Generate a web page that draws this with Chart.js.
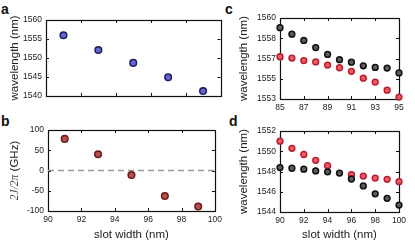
<!DOCTYPE html>
<html>
<head>
<meta charset="utf-8">
<script src="https://cdn.jsdelivr.net/npm/chart.js@4/dist/chart.umd.min.js"></script>
<style>
  body { margin: 0; width: 415px; height: 242px; background: #fff; position: relative; overflow: hidden; }
  canvas { position: absolute; }
  .tag { position: absolute; font: bold 14px "Liberation Sans", Arial, sans-serif; line-height: 14px; color: #111; }
</style>
</head>
<body>
<div class="tag" style="left:1px;top:2px">a</div>
<div class="tag" style="left:1px;top:114px">b</div>
<div class="tag" style="left:225px;top:2px">c</div>
<div class="tag" style="left:229px;top:114px">d</div>
<canvas id="panel-a" width="226" height="105" style="left:0;top:0"></canvas>
<canvas id="panel-b" width="226" height="137" style="left:0;top:105px"></canvas>
<canvas id="panel-c" width="189" height="121" style="left:226px;top:0"></canvas>
<canvas id="panel-d" width="189" height="121" style="left:226px;top:121px"></canvas>
<script>
// panel a / b: single resonance vs slot width
const slotAB = [91, 93, 95, 97, 99];
const wavelengthA = [1556.0, 1552.1, 1548.7, 1544.9, 1541.3];
const couplingB = [78, 40, -11, -63, -89];
const zeroLineX = [90, 100];
const zeroLineY = [0, 0];

// panel c
const slotC = [85, 86, 87, 88, 89, 90, 91, 92, 93, 94, 95];
const blackC = [1559.16, 1558.6, 1558.06, 1557.44, 1556.85, 1556.4, 1556.18, 1555.87, 1555.73, 1555.67, 1555.25];
const redC = [1556.65, 1556.54, 1556.32, 1556.2, 1555.93, 1555.7, 1555.39, 1554.8, 1554.46, 1553.76, 1553.17];
const tickValuesC = [1553, 1554.75, 1556.5, 1558.25, 1560];

// panel d
const slotD = [90, 91, 92, 93, 94, 95, 96, 97, 98, 99, 100];
const blackD = [1548.39, 1548.32, 1548.23, 1548.06, 1547.97, 1547.84, 1547.26, 1546.58, 1545.8, 1545.35, 1544.68];
const redD = [1551.0, 1550.29, 1549.68, 1549.1, 1548.58, null, 1547.68, 1547.55, 1547.35, 1547.23, 1547.0];

const xLabel = "slot width (nm)";
const yLabel = "wavelength (nm)";
const couplingLabel = ["2J/2π", " (GHz)"];

const textColor = "#222";
const tickFont = { family: "Liberation Sans", size: 8.5 };
const titleFont = { family: "Liberation Sans", size: 11.5 };

function points(xs, ys) {
    return xs.map((x, i) => ({ x: x, y: ys[i] }));
}

// box round the plot plus inward ticks on all four sides
const frame = {
    id: "frame",
    beforeDatasetsDraw(chart) {
        const { ctx, chartArea } = chart;
        const { left, right, top, bottom } = chartArea;
        const x = chart.scales.x;
        const y = chart.scales.y;
        ctx.save();
        ctx.strokeStyle = "#111";
        ctx.lineWidth = 1;
        ctx.beginPath();
        x.ticks.forEach(t => {
            const px = Math.round(x.getPixelForValue(t.value)) + 0.5;
            ctx.moveTo(px, bottom); ctx.lineTo(px, bottom - 3);
            ctx.moveTo(px, top); ctx.lineTo(px, top + 3);
        });
        y.ticks.forEach(t => {
            const py = Math.round(y.getPixelForValue(t.value)) + 0.5;
            ctx.moveTo(left, py); ctx.lineTo(left + 3, py);
            ctx.moveTo(right, py); ctx.lineTo(right - 3, py);
        });
        ctx.stroke();
        ctx.lineWidth = 1.2;
        ctx.strokeRect(Math.round(left) + 0.5, Math.round(top) + 0.5,
            Math.round(right - left), Math.round(bottom - top));
        ctx.restore();
    }
};

// y title of panel b, math part in italic serif
const couplingTitle = {
    id: "couplingTitle",
    afterDraw(chart) {
        const { ctx, chartArea } = chart;
        const mathFont = "italic 11.5px 'Liberation Serif'";
        const plainFont = "11.5px 'Liberation Sans'";
        ctx.save();
        ctx.font = mathFont;
        const w1 = ctx.measureText(couplingLabel[0]).width;
        ctx.font = plainFont;
        const w2 = ctx.measureText(couplingLabel[1]).width;
        ctx.translate(15, (chartArea.top + chartArea.bottom) / 2);
        ctx.rotate(-Math.PI / 2);
        ctx.fillStyle = "#444";
        ctx.textBaseline = "middle";
        ctx.textAlign = "left";
        ctx.font = mathFont;
        ctx.fillText(couplingLabel[0], -(w1 + w2) / 2, 0);
        ctx.fillStyle = textColor;
        ctx.font = plainFont;
        ctx.fillText(couplingLabel[1], -(w1 + w2) / 2 + w1, 0);
        ctx.restore();
    }
};

function xAxis(min, max, step, showLabels, title, height) {
    return {
        type: "linear",
        position: "bottom",
        min: min,
        max: max,
        grid: { display: false, drawTicks: false },
        border: { display: false },
        ticks: { stepSize: step, display: showLabels, padding: 4, color: textColor, font: tickFont, maxRotation: 0, autoSkip: false,
                 callback: v => String(v) },
        title: {
            display: !!title,
            text: title || "",
            color: textColor,
            font: titleFont,
            padding: { top: 0, bottom: 0 }
        },
        afterFit: s => { s.height = height; }
    };
}

function yAxis(min, max, step, title, width, titlePad) {
    return {
        type: "linear",
        min: min,
        max: max,
        grid: { display: false, drawTicks: false },
        border: { display: false },
        ticks: { stepSize: step, padding: 4, color: textColor, font: tickFont, autoSkip: false,
                 callback: v => String(v) },
        title: {
            display: !!title,
            text: title || "",
            color: textColor,
            font: titleFont,
            padding: { top: titlePad, bottom: 0 }
        },
        afterFit: s => { s.width = width; }
    };
}

function dots(data, fill, edge, radius) {
    return {
        data: data,
        pointRadius: radius,
        pointBackgroundColor: fill,
        pointBorderColor: edge,
        pointBorderWidth: 1.5,
        clip: false
    };
}

function makeChart(id, datasets, scales, padding, plugins) {
    return new Chart(document.getElementById(id), {
        type: "scatter",
        data: { datasets: datasets },
        options: {
            responsive: false,
            animation: false,
            events: [],
            layout: { padding: padding },
            plugins: { legend: { display: false }, tooltip: { enabled: false } },
            scales: scales
        },
        plugins: [frame].concat(plugins || [])
    });
}

makeChart("panel-a",
    [dots(points(slotAB, wavelengthA), "#6468cc", "#1c1c5c", 3.3)],
    {
        x: xAxis(90, 100, 2, false, null, 5),
        y: yAxis(1540, 1560, 5, yLabel, 46, 8)
    },
    { top: 20, right: 4, left: 0, bottom: 0 });

makeChart("panel-b",
    [
        dots(points(slotAB, couplingB), "#b45050", "#6a1818", 3.3),
        {
            data: points(zeroLineX, zeroLineY),
            showLine: true,
            borderColor: "#9a9a9a",
            borderWidth: 1.3,
            borderDash: [6, 4],
            pointRadius: 0
        }
    ],
    {
        x: xAxis(90, 100, 2, true, xLabel, 31),
        y: yAxis(-100, 100, 50, null, 48, 0)
    },
    { top: 25, right: 4, left: 0, bottom: 0 },
    [couplingTitle]);

const yC = yAxis(1553, 1560, 1.75, yLabel, 54, 11);
yC.afterBuildTicks = s => { s.ticks = tickValuesC.map(v => ({ value: v })); };
yC.ticks.callback = v => String(Math.round(v));

makeChart("panel-c",
    [
        dots(points(slotC, blackC), "#5e5e5e", "#111", 2.9),
        dots(points(slotC, redC), "#ee5a6a", "#b82030", 2.9)
    ],
    {
        x: xAxis(85, 95, 2, true, null, 22),
        y: yC
    },
    { top: 18, right: 16, left: 0, bottom: 0 });

makeChart("panel-d",
    [
        dots(points(slotD, blackD), "#5e5e5e", "#111", 2.9),
        dots(points(slotD, redD), "#ee5a6a", "#b82030", 2.9)
    ],
    {
        x: xAxis(90, 100, 2, true, xLabel, 30),
        y: yAxis(1544, 1552, 2, yLabel, 54, 11)
    },
    { top: 10, right: 16, left: 0, bottom: 0 });
</script>
</body>
</html>
